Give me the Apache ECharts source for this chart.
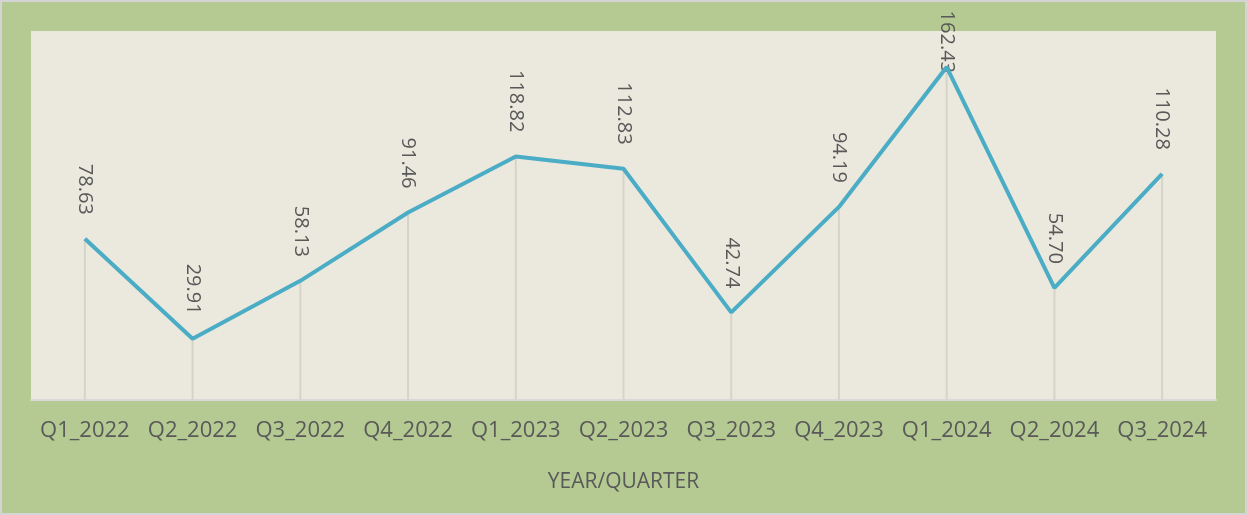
<!DOCTYPE html>
<html>
<head>
<meta charset="utf-8">
<script src="https://cdn.jsdelivr.net/npm/echarts@6/dist/echarts.min.js"></script>
<style>
  html, body { margin: 0; padding: 0; background: #ffffff; }
  #main { width: 1247px; height: 515px; box-sizing: border-box; border: 2px solid #d4d4d4; background: #b5ca92; }
</style>
</head>
<body>
<div id="main"></div>
<script>
// quarter labels and values
var quarters = ["Q1_2022", "Q2_2022", "Q3_2022", "Q4_2022", "Q1_2023", "Q2_2023",
  "Q3_2023", "Q4_2023", "Q1_2024", "Q2_2024", "Q3_2024"];
var values = [78.63, 29.91, 58.13, 91.46, 118.82, 112.83, 42.74, 94.19, 162.43, 54.70, 110.28];

var textGray = "#595959";
var fontName = "'Open Sans', sans-serif";

var chart = echarts.init(document.getElementById("main"));

// drop-line bars carry the labels; the peak one is squeezed against the top like in the original
var barData = values.map(function (v, i) {
  if (v === 162.43) {
    return { value: v, label: { distance: -6 } };
  }
  return v;
});

var option = {
  animation: false,
  grid: {
    left: 29, right: 29, top: 29, bottom: 113,
    show: true, backgroundColor: "#ebe9dd", borderWidth: 0
  },
  xAxis: {
    type: "category",
    data: quarters,
    boundaryGap: true,
    axisLine: { lineStyle: { color: "#d9d9d9", width: 2 } },
    axisTick: { show: false },
    axisLabel: { color: textGray, fontSize: 22, fontFamily: fontName, margin: 20, interval: 0 },
    name: "YEAR/QUARTER",
    nameLocation: "middle",
    nameGap: 72,
    nameTextStyle: { color: textGray, fontSize: 21, fontFamily: fontName }
  },
  yAxis: {
    type: "value",
    min: 0,
    max: 180,
    show: false,
    splitLine: { show: false }
  },
  series: [
    {
      type: "bar",
      data: barData,
      barWidth: 2,
      itemStyle: { color: "#d6d4c8" },
      z: 1,
      label: {
        show: true,
        position: "top",
        rotate: -90,
        align: "right",
        verticalAlign: "middle",
        distance: 24,
        color: textGray,
        fontSize: 20,
        fontFamily: fontName,
        formatter: function (p) { return p.value.toFixed(2); }
      }
    },
    {
      type: "line",
      data: values,
      symbol: "none",
      lineStyle: { color: "#4bacc6", width: 4 },
      z: 3
    }
  ]
};

chart.setOption(option);
</script>
</body>
</html>
